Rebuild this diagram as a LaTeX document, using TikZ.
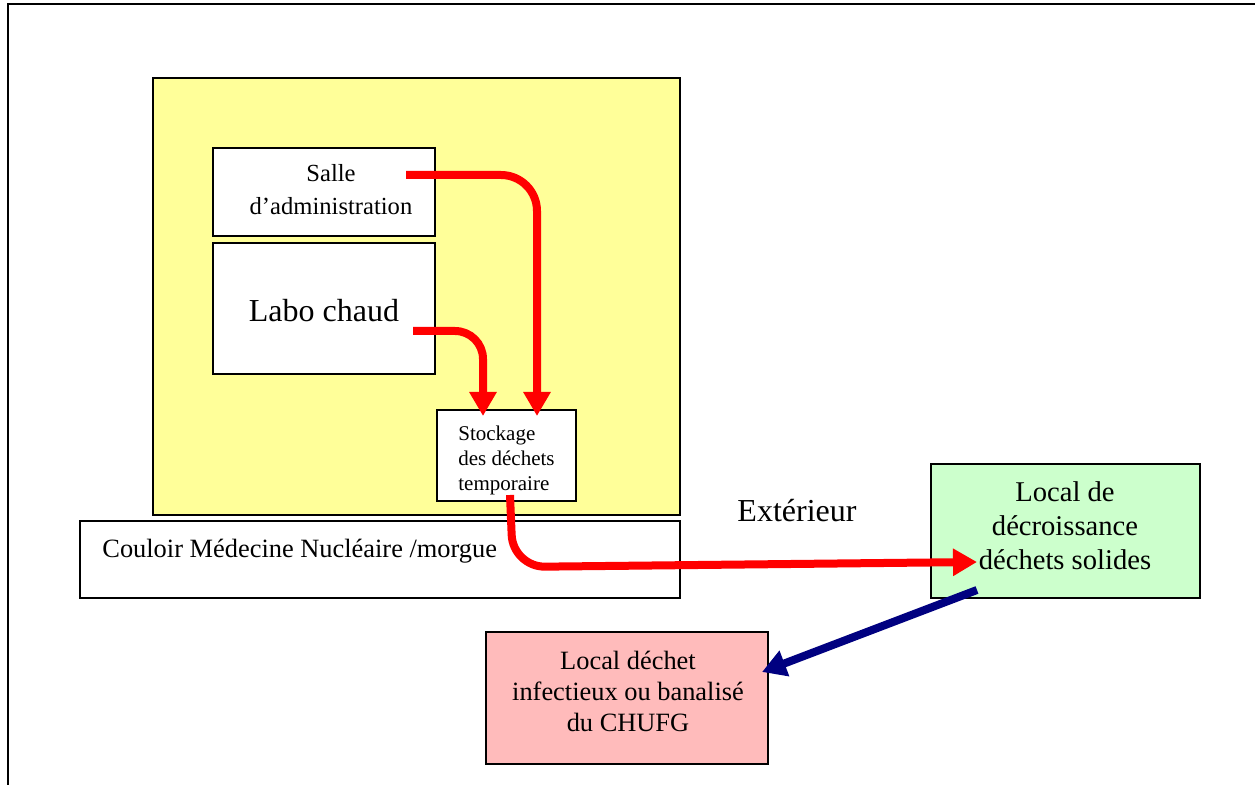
\documentclass[tikz,border=0pt]{standalone}
\usepackage{fontspec}
\setmainfont{Liberation Serif}
\usetikzlibrary{arrows.meta}
\definecolor{roomyellow}{HTML}{FFFF99}
\definecolor{localgreen}{HTML}{CCFFCC}
\definecolor{localpink}{HTML}{FFBBBB}
\definecolor{flowred}{HTML}{FF0000}
\definecolor{flowblue}{HTML}{000080}
\begin{document}
\begin{tikzpicture}[x=0.5pt,y=-0.5pt,
  box/.style={draw=black,line width=1pt,inner sep=0pt,anchor=center},
  lbl/.style={inner sep=0pt,align=center},
  redflow/.style={draw=flowred,line width=4pt,line join=round,-{Triangle[width=13pt,length=12pt]}},
  blueflow/.style={draw=flowblue,line width=4pt,-{Triangle[width=13pt,length=12pt]}}]
\useasboundingbox (0,0) rectangle (1255,785);
\clip (0,0) rectangle (1255,785);
\fill[white] (0,0) rectangle (1255,785);
% outer frame (cut by the page edges)
\draw[line width=1.3pt] (8,4) rectangle (1300,830);
% rooms
\node[box,fill=roomyellow,minimum width=263.5pt,minimum height=218.5pt] (room) at (416.5,296.5) {};
\node[box,fill=white,minimum width=111pt,minimum height=44pt] (salle) at (324,192) {};
\node[box,fill=white,minimum width=111pt,minimum height=65.5pt] (labo) at (324,308.5) {};
\node[box,fill=white,minimum width=69.5pt,minimum height=45.5pt] (stock) at (506.5,455.5) {};
\node[box,fill=white,minimum width=300pt,minimum height=38.5pt] (couloir) at (380,559.5) {};
\node[box,fill=localgreen,minimum width=134.5pt,minimum height=67pt] (green) at (1065.5,531) {};
\node[box,fill=localpink,minimum width=141pt,minimum height=66pt] (pink) at (627,698) {};
% texts
\node[lbl,font=\fontsize{12.3}{16.5}\selectfont] (tsalle) at (331,190) {Salle\\d’administration};
\node[lbl,font=\fontsize{16}{19}\selectfont] (tlabo) at (324,311) {Labo chaud};
\node[lbl,align=left,anchor=west,font=\fontsize{10.5}{12.5}\selectfont] (tstock) at (458,460) {Stockage\\des déchets\\temporaire};
\node[lbl,anchor=west,font=\fontsize{13.2}{15}\selectfont] (tcouloir) at (102,551) {Couloir Médecine Nucléaire /morgue};
\node[lbl,font=\fontsize{16}{19}\selectfont] (text) at (797,511) {Extérieur};
\node[lbl,font=\fontsize{14.3}{17}\selectfont] (tgreen) at (1065,526) {Local de\\décroissance\\déchets solides};
\node[lbl,font=\fontsize{13.2}{15.5}\selectfont] (tpink) at (628,691) {Local déchet\\infectieux ou banalisé\\du CHUFG};
% flow connectors
\coordinate (s1) at (406,175);
\coordinate (e1) at (537,416);
\coordinate (s2) at (413,331);
\coordinate (e2) at (483,416);
\coordinate (s3) at (510,495);
\coordinate (e3) at (977,562);
\coordinate (s4) at (977,590);
\coordinate (e4) at (762,672);
\draw[redflow,rounded corners=18pt] (s1) -- (537,175) -- (e1);
\draw[redflow,rounded corners=14pt] (s2) -- (483,331) -- (e2);
\draw[redflow,rounded corners=16pt] (s3) -- (513,567) -- (e3);
\draw[blueflow] (s4) -- (e4);
\end{tikzpicture}
\end{document}
